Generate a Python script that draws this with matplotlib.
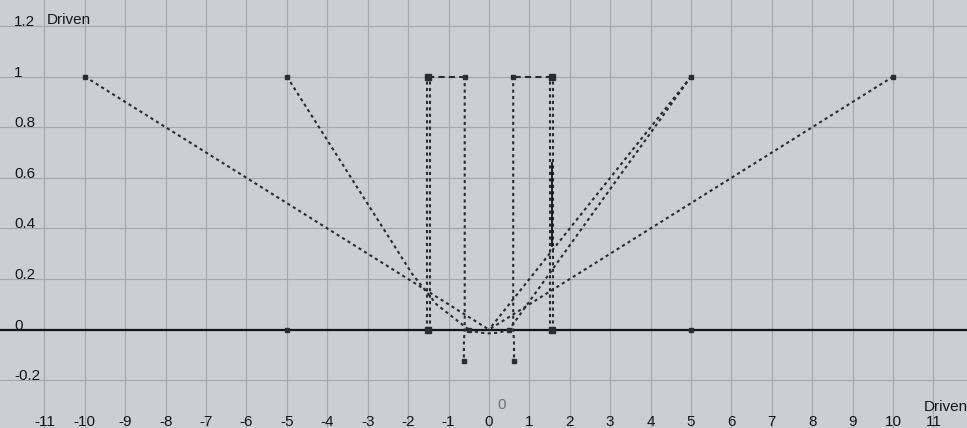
import matplotlib.pyplot as plt
import numpy as np

# ---- Driven key curves (driver value on x, driven value on y) ----
ramp_far_left_x = [-10, 0]
ramp_far_left_y = [1, 0]
ramp_left_x = [-5, -1.9, -1.3, -0.5]
ramp_left_y = [1, 0.22, 0.10, 0]
ramp_right_a_x = [5, 0]
ramp_right_a_y = [1, 0]
ramp_right_b_x = [5, 0.5]
ramp_right_b_y = [1, 0]
ramp_far_right_x = [10, 0]
ramp_far_right_y = [1, 0]
dip_x = [-0.5, -0.25, 0, 0.25, 0.5]
dip_y = [0, -0.012, -0.015, -0.012, 0]

# step curves (left and right pulse)
step_left_x = [-1.5, -1.5, -0.6, -0.6, -0.6, -0.62, -0.62]
step_left_y = [0, 1, 1, 0.5, 0, -0.045, -0.125]
step_right_x = [1.55, 1.55, 0.6, 0.6, 0.6, 0.62, 0.62]
step_right_y = [0, 1, 1, 0.5, 0, -0.045, -0.125]
solid_seg_x = [1.55, 1.55]
solid_seg_y = [0.66, 0.33]

key_x = [-10, -5, -0.6, 0.6, 5, 10, -0.5, 0.5, -5, 5, -0.62, 0.62]
key_y = [1, 1, 1, 1, 1, 1, 0, 0, 0, 0, -0.125, -0.125]
big_key_x = [-1.5, 1.55, -1.5, 1.55]
big_key_y = [1, 1, 0, 0]

x_ticks = list(range(-11, 12))
y_ticks = [-0.2, 0, 0.2, 0.4, 0.6, 0.8, 1, 1.2]
y_tick_labels = ["-0.2", "0", "0.2", "0.4", "0.6", "0.8", "1", "1.2"]

BG = "#cdced2"
GRID = "#a6a7ac"
INK = "#2c2c2f"

fig = plt.figure(figsize=(9.67, 4.28), dpi=100)
fig.patch.set_facecolor(BG)
ax = fig.add_axes([0, 0, 1, 1])
ax.set_facecolor(BG)
ax.set_xlim(-12.10, 11.83)
ax.set_ylim(-0.389, 1.303)
for s in ax.spines.values():
    s.set_visible(False)
ax.set_xticks([])
ax.set_yticks([])

# grid
for xv in x_ticks:
    ax.axvline(xv, color=GRID, lw=0.8, zorder=1)
for yv in y_ticks:
    ax.axhline(yv, color=GRID, lw=0.8, zorder=1)

# zero line
ax.axhline(0, color="#151515", lw=1.6, zorder=3)

dots = dict(color=INK, lw=1.5, linestyle=(0, (1.5, 1.6)), zorder=4)
ax.plot(ramp_far_left_x, ramp_far_left_y, **dots)
ax.plot(ramp_left_x, ramp_left_y, **dots)
ax.plot(ramp_right_a_x, ramp_right_a_y, **dots)
ax.plot(ramp_right_b_x, ramp_right_b_y, **dots)
ax.plot(ramp_far_right_x, ramp_far_right_y, **dots)
ax.plot(dip_x, dip_y, **dots)

# step curves: verticals drawn doubled, top edge dashed
for sx, sy in [(step_left_x, step_left_y), (step_right_x, step_right_y)]:
    sx = np.array(sx, dtype=float)
    sy = np.array(sy, dtype=float)
    ax.plot(sx[:2] - 0.035, sy[:2], **dots)
    ax.plot(sx[:2] + 0.035, sy[:2], **dots)
    ax.plot(sx[1:3], sy[1:3], color=INK, lw=1.5, linestyle=(0, (3, 2)), zorder=4)
    ax.plot(sx[2:], sy[2:], **dots)
ax.plot(solid_seg_x, solid_seg_y, color="#111111", lw=1.3, zorder=5)

ax.plot(key_x, key_y, "s", color=INK, ms=3.5, zorder=6, linestyle="none")
ax.plot(big_key_x, big_key_y, "s", color=INK, ms=5, zorder=6, linestyle="none")

# labels
lab = dict(fontsize=11, color="#161616", family="Liberation Sans")
for yv, t in zip(y_ticks, y_tick_labels):
    ax.text(-11.75, yv + 0.016, t, ha="left", va="center", **lab)
for xv in x_ticks:
    ax.text(xv, -0.365, str(xv), ha="center", va="center", **lab)
ax.text(-10.95, 1.222, "Driven", ha="left", va="center", **lab)
ax.text(10.75, -0.305, "Driven", ha="left", va="center", **lab)
ax.text(0.32, -0.298, "0", ha="center", va="center", fontsize=11,
        color="#707074", family="Liberation Sans")

fig.savefig("out.png", dpi=100, facecolor=BG)
